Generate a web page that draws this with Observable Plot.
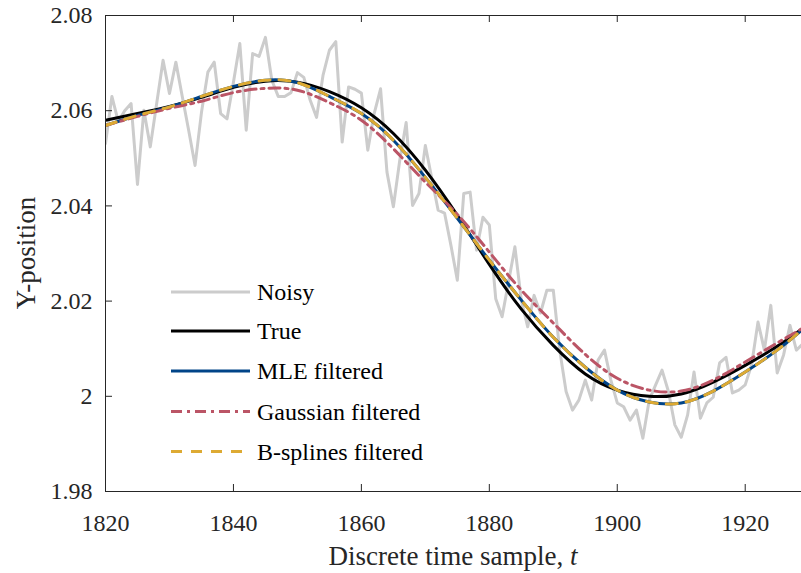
<!DOCTYPE html>
<html><head><meta charset="utf-8">
<script src="https://cdn.jsdelivr.net/npm/d3@7"></script>
<script src="https://cdn.jsdelivr.net/npm/@observablehq/plot@0.6"></script>
<style>
body{margin:0;background:#fff}
#chart{position:relative;width:801px;height:573px;overflow:hidden}
</style>
</head><body><div id="chart"></div>
<script>
// Noisy samples, t = 1820 ... 1929 (one per time step)
const noisyStart = 1820;
const noisyValues = [
 2.0531,2.0630,2.0577,2.0600,2.0615,2.0445,2.0601,2.0524,2.0615,2.0706,
 2.0636,2.0702,2.0630,2.0559,2.0485,2.0596,2.0681,2.0702,2.0594,2.0583,
 2.0660,2.0741,2.0559,2.0720,2.0714,2.0754,2.0664,2.0630,2.0630,2.0638,
 2.0680,2.0670,2.0622,2.0586,2.0674,2.0727,2.0745,2.0534,2.0650,2.0645,
 2.0637,2.0517,2.0594,2.0646,2.0471,2.0398,2.0496,2.0575,2.0401,2.0426,
 2.0527,2.0458,2.0391,2.0385,2.0317,2.0244,2.0426,2.0429,2.0307,2.0376,
 2.0360,2.0205,2.0167,2.0240,2.0314,2.0202,2.0146,2.0212,2.0175,2.0223,
 2.0223,2.0097,2.0010,1.9971,1.9992,2.0034,1.9992,2.0076,2.0097,2.0034,
 1.9986,1.9978,1.9950,1.9971,1.9912,1.9992,2.0024,2.0055,2.0010,1.9940,
 1.9914,1.9961,2.0051,1.9954,1.9986,1.9998,2.0070,2.0082,2.0007,2.0013,
 2.0024,2.0066,2.0156,2.0097,2.0191,2.0049,2.0087,2.0149,2.0097,2.0110
];
// Smooth curves sampled every 5 steps
const smoothT = [1820,1825,1830,1835,1840,1845,1850,1855,1860,1865,1870,1875,1880,1885,1890,1895,1900,1905,1910,1915,1920,1925,1929];
const trueValues     = [2.0580,2.0594,2.0609,2.0628,2.0649,2.0662,2.0660,2.0640,2.0606,2.0552,2.0475,2.0380,2.0277,2.0183,2.0107,2.0047,2.0013,2.0000,2.0005,2.0030,2.0065,2.0105,2.0143];
const mleValues      = [2.0569,2.0590,2.0608,2.0630,2.0651,2.0664,2.0659,2.0630,2.0594,2.0538,2.0460,2.0374,2.0286,2.0202,2.0124,2.0061,2.0013,1.9988,1.9986,2.0011,2.0051,2.0097,2.0141];
const gaussValues    = [2.0569,2.0588,2.0605,2.0620,2.0638,2.0647,2.0643,2.0617,2.0580,2.0520,2.0450,2.0382,2.0303,2.0223,2.0154,2.0088,2.0038,2.0013,2.0011,2.0034,2.0072,2.0112,2.0143];
const bsplineValues  = [2.0569,2.0590,2.0608,2.0630,2.0651,2.0664,2.0659,2.0630,2.0594,2.0538,2.0460,2.0374,2.0286,2.0202,2.0124,2.0061,2.0013,1.9988,1.9986,2.0011,2.0051,2.0097,2.0141];

const xTicks = [1820,1840,1860,1880,1900,1920];
const yTicks = [1.98,2.00,2.02,2.04,2.06,2.08];
const yTickLabels = ["1.98","2","2.02","2.04","2.06","2.08"];
const seriesNames = ["Noisy","True","MLE filtered","Gaussian filtered","B-splines filtered"];
const seriesColors = ["#cccccc","#000000","#004488","#BB5566","#DDAA33"];
const seriesDash = [null,null,null,"11,5,3,5","11,9"];

const noisy = noisyValues.map((v,i)=>({t:noisyStart+i, v}));
const mk = vals => smoothT.map((t,i)=>({t, v:vals[i]}));
const curves = [mk(trueValues), mk(mleValues), mk(gaussValues), mk(bsplineValues)];

const W=801, H=573, mL=105, mR=0, mT=15, mB=82;
const plotW = W-mL-mR, plotH = H-mT-mB, tick=7;
const axisColor="#262626";

const plot = Plot.plot({
  width: W, height: H,
  marginLeft: mL, marginRight: mR, marginTop: mT, marginBottom: mB,
  x: {domain: [1820, 1928.8]},
  y: {domain: [1.98, 2.08]},
  style: {fontFamily: "'Liberation Serif', 'Times New Roman', serif", fontSize: "24px", color: axisColor, background: "white", overflow: "hidden"},
  marks: [
    Plot.line(noisy, {x:"t", y:"v", stroke: seriesColors[0], strokeWidth: 3, clip: true}),
    ...curves.map((c,i)=>Plot.line(c, {x:"t", y:"v", curve:"natural", stroke: seriesColors[i+1], strokeWidth: 3, strokeDasharray: seriesDash[i+1] ?? undefined, clip: true})),
    Plot.ruleX([1820], {stroke: axisColor, strokeWidth: 1}),
    Plot.ruleY([1.98, 2.08], {stroke: axisColor, strokeWidth: 1}),
    Plot.ruleX(xTicks, {stroke: axisColor, insetTop: plotH - tick}),
    Plot.ruleX(xTicks, {stroke: axisColor, insetBottom: plotH - tick}),
    Plot.ruleY(yTicks, {stroke: axisColor, insetRight: plotW - tick}),
    Plot.axisX(xTicks, {tickSize: 0, tickPadding: 22, fontSize: 24, label: null, tickFormat: d => String(d)}),
    Plot.axisY(yTicks, {tickSize: 0, tickPadding: 13, fontSize: 24, label: null, tickFormat: d => yTickLabels[yTicks.indexOf(d)]})
  ]
});
document.getElementById("chart").appendChild(plot);

const svg = d3.select(plot);
// axis labels
const xl = svg.append("text").attr("x", 453).attr("y", 565).attr("text-anchor","middle")
  .attr("font-size", 27).attr("fill", axisColor).text("Discrete time sample, ");
xl.append("tspan").attr("font-style","italic").text("t");
svg.append("text").attr("transform","translate(35,253) rotate(-90)").attr("text-anchor","middle")
  .attr("font-size", 27).attr("fill", axisColor).text("Y-position");

// legend
const legY = [292, 331, 371, 411.5, 451.5];
const leg = svg.append("g").attr("text-anchor","start");
seriesNames.forEach((name,i)=>{
  leg.append("line").attr("x1",171).attr("x2",250).attr("y1",legY[i]).attr("y2",legY[i])
    .attr("stroke", seriesColors[i]).attr("stroke-width",3)
    .attr("stroke-dasharray", seriesDash[i] || null);
  leg.append("text").attr("x",257).attr("y",legY[i]+8).attr("font-size",24)
    .attr("text-anchor","start").attr("fill","#000").text(name);
});
</script>
</body></html>
